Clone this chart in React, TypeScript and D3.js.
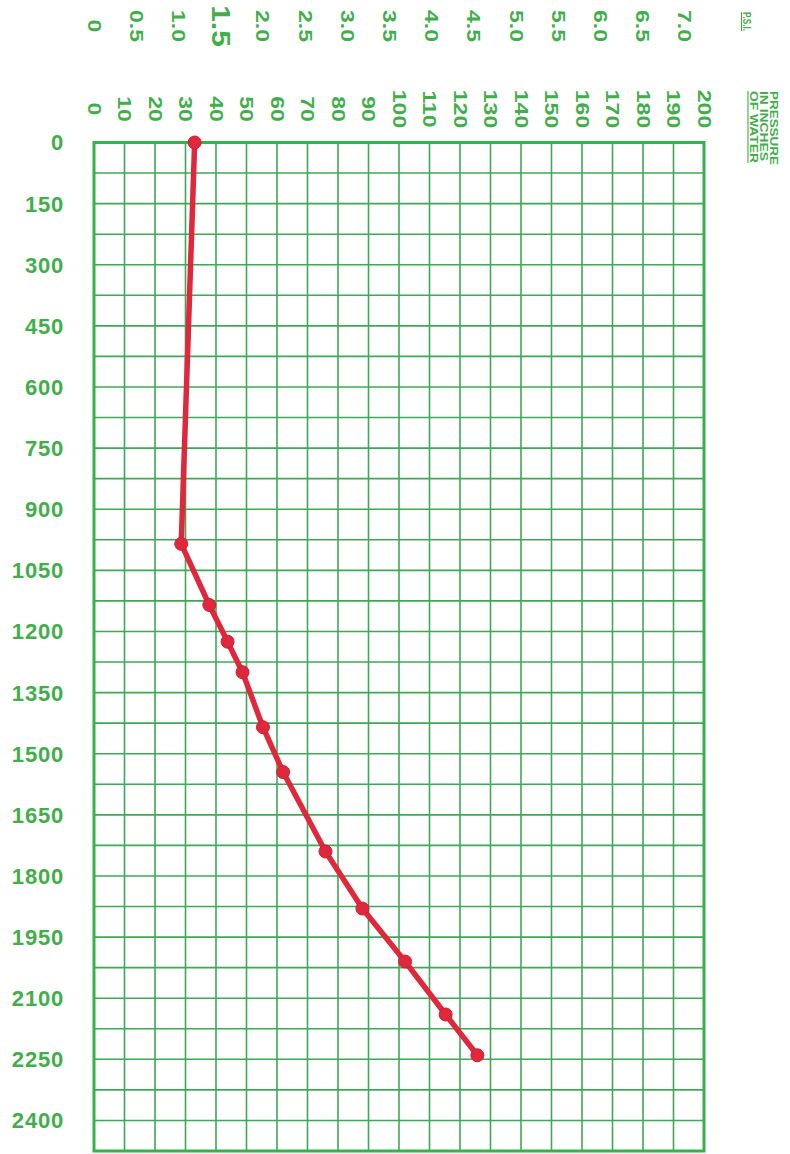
import * as d3 from "d3";

// pressure readings (inches of water) against depth
const depths = [0, 985, 1135, 1225, 1300, 1435, 1545, 1740, 1880, 2010, 2140, 2240];
const pressures = [33, 28.6, 37.8, 43.8, 48.7, 55.4, 62, 75.9, 88, 102, 115.3, 125.7];

const inchTicks = [0, 10, 20, 30, 40, 50, 60, 70, 80, 90, 100, 110, 120, 130, 140, 150, 160, 170, 180, 190, 200];
const psiTicks = ["0", "0.5", "1.0", "1.5", "2.0", "2.5", "3.0", "3.5", "4.0", "4.5", "5.0", "5.5", "6.0", "6.5", "7.0"];
const depthTicks = [0, 150, 300, 450, 600, 750, 900, 1050, 1200, 1350, 1500, 1650, 1800, 1950, 2100, 2250, 2400];
const rowLines = [0, 75, 150, 225, 300, 375, 450, 525, 600, 675, 750, 825, 900, 975, 1050, 1125, 1200, 1275, 1350, 1425, 1500, 1575, 1650, 1725, 1800, 1875, 1950, 2025, 2100, 2175, 2250, 2325, 2400, 2475];
const inchesPerPsi = 27.68;

const W = 790, H = 1154;
const green = "#3ca957";
const labelGreen = "#42ae4b";
const red = "#e0283c";

export default function App() {
    const x = d3.scaleLinear().domain([0, 200]).range([94, 704]);
    const y = d3.scaleLinear().domain([0, 2475]).range([142.5, 1151]);

    const data = depths.map((d, i) => ({ depth: d, p: pressures[i] }));
    const line = d3.line<{ depth: number; p: number }>()
        .x(d => x(d.p))
        .y(d => y(d.depth));

    const font = "'Liberation Sans', Arial, sans-serif";

    return (
        <svg width={W} height={H} style={{ position: "absolute", left: 0, top: 0, background: "#fff" }}>
            {/* grid */}
            <g stroke={green} strokeWidth={1.6}>
                {inchTicks.map(t => (
                    <line key={"v" + t} x1={x(t)} x2={x(t)} y1={y(0)} y2={y(2475)} />
                ))}
                {rowLines.map(t => (
                    <line key={"h" + t} x1={x(0)} x2={x(200)} y1={y(t)} y2={y(t)} />
                ))}
            </g>
            <rect x={x(0)} y={y(0)} width={x(200) - x(0)} height={y(2475) - y(0)}
                fill="none" stroke="#35b34a" strokeWidth={3} />

            {/* depth labels */}
            <g fill={labelGreen} fontFamily={font} fontWeight="bold" fontSize={22} textAnchor="end">
                {depthTicks.map(t => (
                    <text key={t} x={64} y={y(t)} dy="0.36em" letterSpacing={0.8}>{t}</text>
                ))}
            </g>

            {/* inches of water labels (rotated) */}
            <g fill={labelGreen} fontFamily={font} fontWeight="bold" fontSize={18}>
                {inchTicks.map(t => (
                    <text key={t} transform={`translate(${x(t)},109) rotate(90) scale(1.28,1)`}
                        textAnchor="middle" dy="0.36em">{t}</text>
                ))}
            </g>

            {/* psi labels */}
            <g fill={labelGreen} fontFamily={font} fontWeight="bold">
                {psiTicks.map(t => {
                    const big = t === "1.5";
                    return (
                        <text key={t} transform={`translate(${x(+t * inchesPerPsi)},26) rotate(90) scale(${big ? 1.2 : 1.28},1)`}
                            textAnchor="middle" dy="0.36em" fontSize={big ? 25 : 18}>{t}</text>
                    );
                })}
            </g>

            {/* units */}
            <g fill={labelGreen} fontFamily={font} fontWeight="bold" fontSize={11}>
                <text transform="translate(747,12) rotate(90)" dy="0.36em" textLength={19}
                    lengthAdjust="spacingAndGlyphs" style={{ textDecoration: "underline" }}>P.S.I.</text>
                <text transform="translate(774,91) rotate(90)" dy="0.36em" textLength={74}
                    lengthAdjust="spacingAndGlyphs">PRESSURE</text>
                <text transform="translate(764,91) rotate(90)" dy="0.36em" textLength={70}
                    lengthAdjust="spacingAndGlyphs">IN INCHES</text>
                <text transform="translate(753.5,91) rotate(90)" dy="0.36em" textLength={72}
                    lengthAdjust="spacingAndGlyphs" style={{ textDecoration: "underline" }}>OF WATER</text>
            </g>

            {/* curve */}
            <path d={line(data) || ""} fill="none" stroke={red} strokeWidth={5.5}
                strokeLinejoin="round" strokeLinecap="round" />
            {data.map((d, i) => (
                <circle key={i} cx={x(d.p)} cy={y(d.depth)} r={6.5} fill={red} stroke="#cf1f35" strokeWidth={1} />
            ))}
        </svg>
    );
}
